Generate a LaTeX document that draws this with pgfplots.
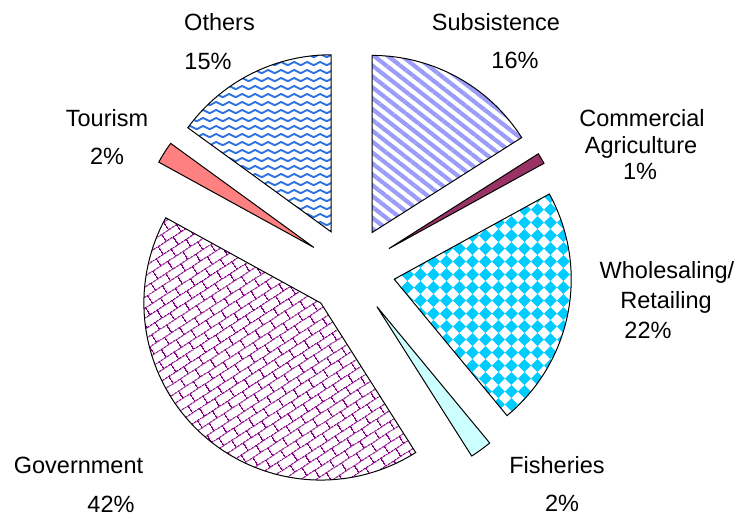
\documentclass[border=0pt]{standalone}
\usepackage{pgfplots}
\pgfplotsset{compat=1.18}
\usepackage{fontspec}
\setmainfont{Liberation Sans}
\usetikzlibrary{patterns.meta}

\definecolor{stripeblue}{RGB}{155,155,250}
\definecolor{waveblue}{RGB}{45,115,225}
\definecolor{diamondcyan}{RGB}{0,204,255}
\definecolor{brickpurple}{RGB}{128,0,128}
\definecolor{maroon}{RGB}{153,51,102}
\definecolor{palecyan}{RGB}{204,255,255}
\definecolor{salmon}{RGB}{255,128,128}

% zigzag waves
\tikzdeclarepattern{
  name=waves, type=uncolored,
  bottom left={(0pt,0pt)}, top right={(6.6pt,4.25pt)},
  tile size={(6.6pt,4.25pt)},
  code={
    \draw[line width=1pt,line join=round]
      (-3.3pt,2.7pt) -- (0pt,1.0pt) -- (3.3pt,2.7pt) -- (6.6pt,1.0pt) -- (9.9pt,2.7pt);
  }
}
% rotated checkerboard
\tikzdeclarepattern{
  name=diamonds, type=uncolored,
  bottom left={(0pt,0pt)}, top right={(6.5pt,6.5pt)},
  tile size={(6.5pt,6.5pt)},
  code={
    \fill (3.25pt,0pt) -- (6.5pt,3.25pt) -- (3.25pt,6.5pt) -- (0pt,3.25pt) -- cycle;
  }
}
% diagonal bricks
\tikzdeclarepattern{
  name=bricks, type=uncolored,
  bottom left={(0pt,0pt)}, top right={(9pt,9pt)},
  tile size={(9pt,9pt)},
  tile transformation={rotate=33},
  code={
    \draw[line width=0.55pt]
      (-1pt,1pt) -- (10pt,1pt)
      (-1pt,5.5pt) -- (10pt,5.5pt)
      (1pt,1pt) -- (1pt,5.5pt)
      (5.5pt,5.5pt) -- (5.5pt,10pt)
      (5.5pt,-3.5pt) -- (5.5pt,1pt);
  }
}

% one exploded wedge: #1 = share before it (percent, counter-clockwise
% from 12 o'clock), #2 = its share (percent), #3 = fill style
\newcommand\slice[3]{%
  \pgfmathsetmacro\sa{90+3.6*#1}%
  \pgfmathsetmacro\sb{90+3.6*(#1+#2)}%
  \pgfmathsetmacro\ox{351+44*cos(90+3.6*(#1+#2/2))}%
  \pgfmathsetmacro\oy{243+44*sin(90+3.6*(#1+#2/2))}%
  \edef\doslice{\noexpand\addplot[draw=black,line width=0.5pt,mark=none,#3,
      domain=\sa:\sb,samples=90]
    ({\ox+177*cos(x)},{\oy+177*sin(x)}) -- (axis cs:\ox,\oy) -- cycle;}%
  \doslice}

\begin{document}
\begin{tikzpicture}
\begin{axis}[
  hide axis, scale only axis,
  width=368bp, height=257bp,
  xmin=0, xmax=736, ymin=0, ymax=514,
  clip=false,
]
\path (rel axis cs:0,0) rectangle (rel axis cs:1,1);

% Others 15, Tourism 2, Government 42, Fisheries 2,
% Wholesaling/Retailing 22, Commercial Agriculture 1, Subsistence 16
\slice{0}{15}{pattern=waves,pattern color=waveblue}
\slice{15}{2}{fill=salmon}
\slice{17}{42}{pattern=bricks,pattern color=brickpurple}
\slice{59}{2}{fill=palecyan}
\slice{61}{22}{pattern=diamonds,pattern color=diamondcyan}
\slice{83}{1}{fill=maroon}
\slice{84}{16}{pattern={Lines[angle=-38,distance=4.3pt,line width=2.1pt]},pattern color=stripeblue}

\begin{scope}[every node/.style={anchor=base,inner sep=0pt,
    font=\fontsize{11.75bp}{14bp}\selectfont}]
\node at (axis cs:219.5,483) {Others};
\node at (axis cs:208,444) {15\%};
\node at (axis cs:496,483) {Subsistence};
\node at (axis cs:515,445) {16\%};
\node at (axis cs:642,387) {Commercial};
\node at (axis cs:641,360) {Agriculture};
\node at (axis cs:640,334) {1\%};
\node at (axis cs:667,235) {Wholesaling/};
\node at (axis cs:666,205) {Retailing};
\node at (axis cs:648,175) {22\%};
\node at (axis cs:107,387) {Tourism};
\node at (axis cs:107,349) {2\%};
\node at (axis cs:78.5,41) {Government};
\node at (axis cs:111,2) {42\%};
\node at (axis cs:557,41) {Fisheries};
\node at (axis cs:562,3) {2\%};
\end{scope}
\end{axis}
\end{tikzpicture}
\end{document}
